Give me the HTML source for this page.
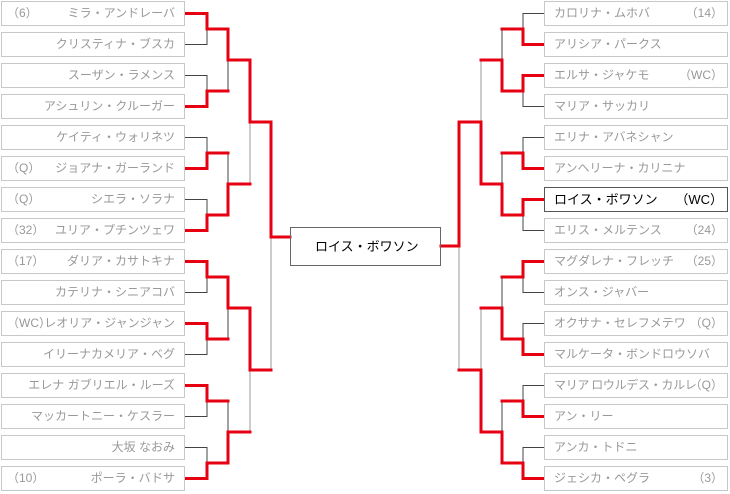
<!DOCTYPE html>
<html><head><meta charset="utf-8">
<style>
body{margin:0;width:730px;height:494px;background:#fff;position:relative;overflow:hidden;font-family:"Liberation Sans","Noto Sans CJK JP",sans-serif;}
.b{position:absolute;box-sizing:border-box;width:184px;height:25px;border:1px solid #c8c8c8;background:#fff;color:#999;font-size:12px;line-height:23px;white-space:nowrap;}
.l{left:1px;}
.r{left:544px;}
.l .n{position:absolute;right:9px;top:0;}
.l .s{position:absolute;left:5px;top:0;}
.r .n{position:absolute;left:9px;top:0;}
.r .s{position:absolute;right:4px;top:0;}
.hl{border-color:#555;color:#000;font-size:13px;}
.f{position:absolute;left:290px;top:227px;width:151px;height:39px;box-sizing:border-box;border:1px solid #666;font-size:13px;line-height:37px;color:#000;padding-left:24px;}
svg{position:absolute;left:0;top:0;}
</style></head><body>
<svg id="sv" width="730" height="494"></svg>

<div class="b l" style="top:1px"><span class="s">（6）</span><span class="n">ミラ・アンドレーバ</span></div>
<div class="b l" style="top:32px"><span class="n">クリスティナ・ブスカ</span></div>
<div class="b l" style="top:63px"><span class="n">スーザン・ラメンス</span></div>
<div class="b l" style="top:94px"><span class="n">アシュリン・クルーガー</span></div>
<div class="b l" style="top:125px"><span class="n">ケイティ・ウォリネツ</span></div>
<div class="b l" style="top:156px"><span class="s">（Q）</span><span class="n">ジョアナ・ガーランド</span></div>
<div class="b l" style="top:187px"><span class="s">（Q）</span><span class="n">シエラ・ソラナ</span></div>
<div class="b l" style="top:218px"><span class="s">（32）</span><span class="n">ユリア・プチンツェワ</span></div>
<div class="b l" style="top:249px"><span class="s">（17）</span><span class="n">ダリア・カサトキナ</span></div>
<div class="b l" style="top:280px"><span class="n">カテリナ・シニアコバ</span></div>
<div class="b l" style="top:311px"><span class="s">（WC）</span><span class="n">レオリア・ジャンジャン</span></div>
<div class="b l" style="top:342px"><span class="n">イリーナカメリア・ベグ</span></div>
<div class="b l" style="top:373px"><span class="n">エレナ ガブリエル・ルーズ</span></div>
<div class="b l" style="top:404px"><span class="n">マッカートニー・ケスラー</span></div>
<div class="b l" style="top:435px"><span class="n">大坂 なおみ</span></div>
<div class="b l" style="top:466px"><span class="s">（10）</span><span class="n">ポーラ・バドサ</span></div>

<div class="b r" style="top:1px"><span class="n">カロリナ・ムホバ</span><span class="s">（14）</span></div>
<div class="b r" style="top:32px"><span class="n">アリシア・パークス</span></div>
<div class="b r" style="top:63px"><span class="n">エルサ・ジャケモ</span><span class="s">（WC）</span></div>
<div class="b r" style="top:94px"><span class="n">マリア・サッカリ</span></div>
<div class="b r" style="top:125px"><span class="n">エリナ・アバネシャン</span></div>
<div class="b r" style="top:156px"><span class="n">アンヘリーナ・カリニナ</span></div>
<div class="b r hl" style="top:187px"><span class="n">ロイス・ボワソン</span><span class="s">（WC）</span></div>
<div class="b r" style="top:218px"><span class="n">エリス・メルテンス</span><span class="s">（24）</span></div>
<div class="b r" style="top:249px"><span class="n">マグダレナ・フレッチ</span><span class="s">（25）</span></div>
<div class="b r" style="top:280px"><span class="n">オンス・ジャバー</span></div>
<div class="b r" style="top:311px"><span class="n">オクサナ・セレフメテワ</span><span class="s">（Q）</span></div>
<div class="b r" style="top:342px"><span class="n">マルケータ・ボンドロウソバ</span></div>
<div class="b r" style="top:373px"><span class="n" style="letter-spacing:-0.3px">マリア&#8201;ロウルデス・カルレ</span><span class="s">（Q）</span></div>
<div class="b r" style="top:404px"><span class="n">アン・リー</span></div>
<div class="b r" style="top:435px"><span class="n">アンカ・トドニ</span></div>
<div class="b r" style="top:466px"><span class="n">ジェシカ・ペグラ</span><span class="s">（3）</span></div>

<div class="f">ロイス・ボワソン</div>

<script>
(function(){
var sv=document.getElementById('sv'),gray=[],red=[];
function L(arr,x1,y1,x2,y2,c,w){arr.push('<line x1="'+x1+'" y1="'+y1+'" x2="'+x2+'" y2="'+y2+'" stroke="'+c+'" stroke-width="'+w+'" stroke-linecap="square"/>');}
var R='#e60012';
function side(xs,edge,win){
  var ys=[];for(var i=0;i<16;i++)ys.push(13.5+31*i);
  var prev=edge;
  for(var r=0;r<xs.length;r++){
    var x=xs[r],n=[];
    for(var k=0;k<ys.length/2;k++){
      var a=ys[2*k],b=ys[2*k+1],m=(a+b)/2,w=win[r][k];
      var ya=w?b:a, yl=w?a:b;
      var gc=r<2?'#444':'#999';
      if(r==0){L(gray,prev,yl,x,yl,gc,1);L(red,prev,ya,x,ya,R,3);}
      else{L(red,prev,a,x,a,R,3);L(red,prev,b,x,b,R,3);}
      L(gray,x,yl,x,m,gc,1);L(red,x,ya,x,m,R,3);
      n.push(m);
    }
    ys=n;prev=x;
  }
  return ys;
}
var lw=[[0,1,1,1,0,0,0,1],[0,1,0,1],[0,0]];
side([207,228,250],185,lw);
var rw=[[1,0,1,0,0,1,1,1],[1,1,1,1],[1,1]];
side([523,502,481],544,rw);
L(gray,271,237,271,370,'#999',1);L(red,250,122,271,122,R,3);L(red,250,370,271,370,R,3);L(red,271,122,271,237,R,3);L(red,271,237,290,237,R,3);
L(gray,459,246,459,370,'#999',1);L(red,481,122,459,122,R,3);L(red,481,370,459,370,R,3);L(red,459,122,459,246,R,3);L(red,459,246,441,246,R,3);
sv.innerHTML=gray.join('')+red.join('');
})();
</script>
</body></html>
